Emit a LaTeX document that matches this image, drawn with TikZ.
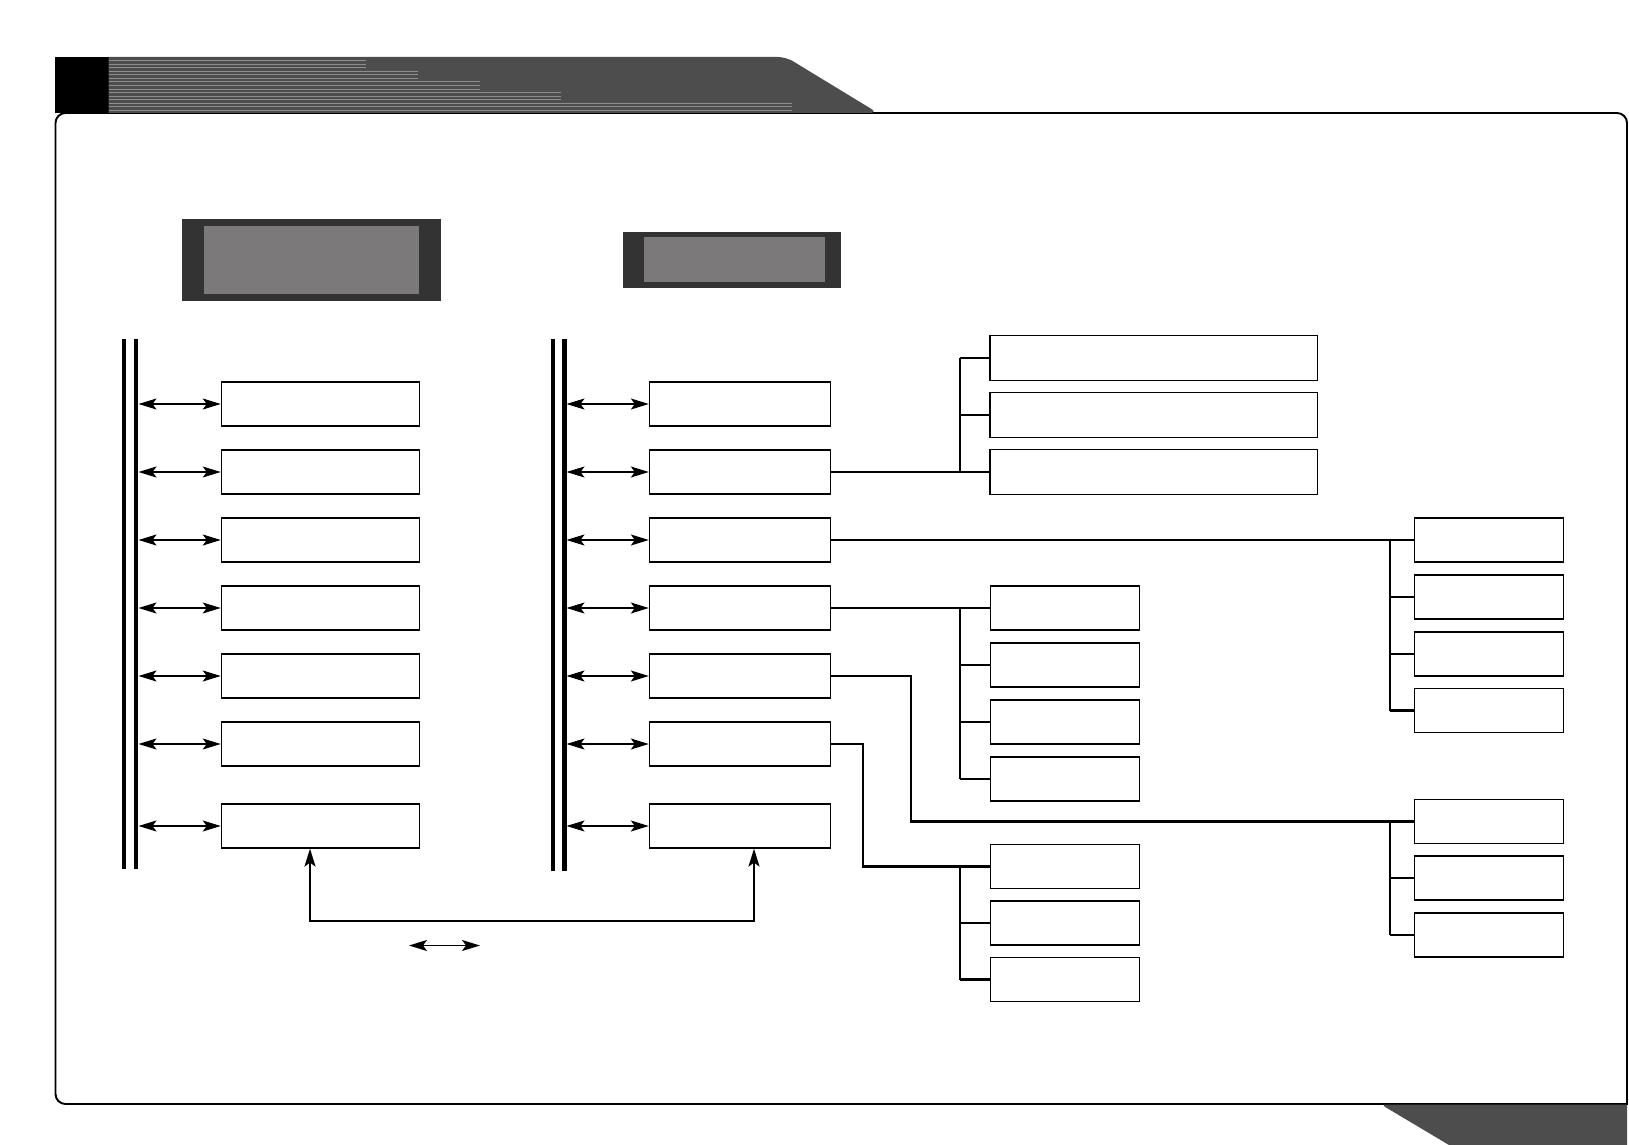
\documentclass[tikz,border=0pt]{standalone}
\usetikzlibrary{arrows.meta}
\definecolor{Tab}{HTML}{4D4D4D}
\definecolor{Stripe}{HTML}{8E8E8E}
\definecolor{PanelEdge}{HTML}{333333}
\definecolor{PanelFill}{HTML}{7B797A}
\tikzset{unit/.style={draw=black,line width=0.65pt,fill=white,inner sep=0pt,
    minimum height=8.8mm},
  lunit/.style={unit,minimum width=39.68mm},
  munit/.style={unit,minimum width=36.24mm},
  wunit/.style={unit,minimum width=65.46mm,minimum height=8.9mm},
  sunit/.style={unit,minimum width=29.8mm},
  panel/.style={fill=PanelEdge,inner sep=0pt},
  screen/.style={fill=PanelFill,inner sep=0pt},
  frame/.style={draw=black,line width=1.1pt,rounded corners=2mm,line cap=rect},
  stripe/.style={draw=Stripe,line width=0.4pt},
  bus/.style={line width=2.3pt},
  tip/.tip={Stealth[length=3.6mm,width=2.2mm,inset=0.8mm]},
  busarrow/.style={tip-tip,line width=0.8pt},
  link/.style={line width=1.15pt},
  uplink/.style={link,tip-tip}}

\begin{document}
\begin{tikzpicture}[x=0.2mm,y=-0.2mm]
  \useasboundingbox (0,0) rectangle (1629,1145);
  % frame and tabs
  \draw[frame] (1627,1104) -- (55.5,1104) -- (55.5,113) -- (1627,113) -- (1627,1104);
  \fill[black] (55,57) rectangle (108.5,113);
  \fill[Tab] (108.5,113) -- (108.5,57) [rounded corners=1.6mm] -- (786,57) -- (878,113) [sharp corners] -- cycle;
  \draw[stripe] (108.5,60.5) -- (366,60.5) (108.5,64) -- (366,64) (108.5,67.6) -- (366,67.6);
  \draw[stripe] (108.5,71.2) -- (418,71.2) (108.5,74.7) -- (418,74.7) (108.5,78.3) -- (418,78.3);
  \draw[stripe] (108.5,81.8) -- (480,81.8) (108.5,85.4) -- (480,85.4) (108.5,88.9) -- (480,88.9);
  \draw[stripe] (108.5,92.5) -- (561,92.5) (108.5,96) -- (561,96) (108.5,99.6) -- (561,99.6);
  \draw[stripe] (108.5,103.1) -- (792,103.1) (108.5,106.7) -- (792,106.7) (108.5,110.2) -- (792,110.2);
  \fill[Tab] (1627,1104.5) -- (1627,1145) -- (1449,1145) [rounded corners=1mm] -- (1381,1104.5) [sharp corners] -- cycle;

  % display panels
  \node[panel,minimum width=51.86mm,minimum height=16.4mm] (lpanel) at (311.5,260) {};
  \node[screen,minimum width=42.96mm,minimum height=13.6mm] at (lpanel) {};
  \node[panel,minimum width=43.7mm,minimum height=11.2mm] (mpanel) at (732,260) {};
  \node[screen,minimum width=36.1mm,minimum height=9mm] at ([xshift=0.5mm]mpanel) {};

  % buses
  \draw[bus] (124,339) -- (124,869);
  \draw[bus] (136.3,339) -- (136.3,869);
  \draw[bus] (553,339) -- (553,871);
  \draw[bus] (564.5,339) -- (564.5,871);
  \coordinate (lrail) at (138.5,339);
  \coordinate (mrail) at (566.5,339);

  % left column
  \node[lunit] (l1) at (320.5,404) {};
  \node[lunit] (l2) at (320.5,472) {};
  \node[lunit] (l3) at (320.5,540) {};
  \node[lunit] (l4) at (320.5,608) {};
  \node[lunit] (l5) at (320.5,676) {};
  \node[lunit] (l6) at (320.5,744) {};
  \node[lunit] (l7) at (320.5,826) {};

  % middle column
  \node[munit] (m1) at (740,404) {};
  \node[munit] (m2) at (740,472) {};
  \node[munit] (m3) at (740,540) {};
  \node[munit] (m4) at (740,608) {};
  \node[munit] (m5) at (740,676) {};
  \node[munit] (m6) at (740,744) {};
  \node[munit] (m7) at (740,826) {};

  % bus arrows
  \draw[busarrow] (lrail |- l1.west) -- (l1.west);
  \draw[busarrow] (lrail |- l2.west) -- (l2.west);
  \draw[busarrow] (lrail |- l3.west) -- (l3.west);
  \draw[busarrow] (lrail |- l4.west) -- (l4.west);
  \draw[busarrow] (lrail |- l5.west) -- (l5.west);
  \draw[busarrow] (lrail |- l6.west) -- (l6.west);
  \draw[busarrow] (lrail |- l7.west) -- (l7.west);
  \draw[busarrow] (mrail |- m1.west) -- (m1.west);
  \draw[busarrow] (mrail |- m2.west) -- (m2.west);
  \draw[busarrow] (mrail |- m3.west) -- (m3.west);
  \draw[busarrow] (mrail |- m4.west) -- (m4.west);
  \draw[busarrow] (mrail |- m5.west) -- (m5.west);
  \draw[busarrow] (mrail |- m6.west) -- (m6.west);
  \draw[busarrow] (mrail |- m7.west) -- (m7.west);

  % branch boxes
  \node[wunit] (t1) at (1153.7,358) {};
  \node[wunit] (t2) at (1153.7,415) {};
  \node[wunit] (t3) at (1153.7,472) {};
  \node[sunit] (r1) at (1489,540) {};
  \node[sunit] (r2) at (1489,597) {};
  \node[sunit] (r3) at (1489,654) {};
  \node[sunit] (r4) at (1489,710.5) {};
  \node[sunit] (n1) at (1065,608) {};
  \node[sunit] (n2) at (1065,665) {};
  \node[sunit] (n3) at (1065,722) {};
  \node[sunit] (n4) at (1065,779) {};
  \node[sunit] (p1) at (1489,821.5) {};
  \node[sunit] (p2) at (1489,878) {};
  \node[sunit] (p3) at (1489,935) {};
  \node[sunit] (q1) at (1065,866.5) {};
  \node[sunit] (q2) at (1065,923) {};
  \node[sunit] (q3) at (1065,979.5) {};

  % branch links
  \coordinate (nspine) at (960,0);
  \coordinate (fspine) at (1390,0);
  \coordinate (bend5) at (911,0);
  \coordinate (bend6) at (862.5,0);
  \draw[link] (m2.east) -- (m2.east -| t3.west);
  \draw[link] (nspine |- t1.west) -- (nspine |- t3.west);
  \draw[link] (nspine |- t1.west) -- (t1.west);
  \draw[link] (nspine |- t2.west) -- (t2.west);
  \draw[link] (m3.east) -- (m3.east -| r1.west);
  \draw[link] (fspine |- r1.west) -- (fspine |- r4.west);
  \draw[link] (fspine |- r2.west) -- (r2.west);
  \draw[link] (fspine |- r3.west) -- (r3.west);
  \draw[link] (fspine |- r4.west) -- (r4.west);
  \draw[link] (m4.east) -- (m4.east -| n1.west);
  \draw[link] (nspine |- n1.west) -- (nspine |- n4.west);
  \draw[link] (nspine |- n2.west) -- (n2.west);
  \draw[link] (nspine |- n3.west) -- (n3.west);
  \draw[link] (nspine |- n4.west) -- (n4.west);
  \draw[link] (m5.east) -- (bend5 |- m5.east) |- (p1.west);
  \draw[link] (fspine |- p1.west) -- (fspine |- p3.west);
  \draw[link] (fspine |- p2.west) -- (p2.west);
  \draw[link] (fspine |- p3.west) -- (p3.west);
  \draw[link] (m6.east) -- (bend6 |- m6.east) |- (q1.west);
  \draw[link] (nspine |- q1.west) -- (nspine |- q3.west);
  \draw[link] (nspine |- q2.west) -- (q2.west);
  \draw[link] (nspine |- q3.west) -- (q3.west);

  % bottom link and key
  \coordinate (lk) at (310,921);
  \coordinate (mk) at (754,921);
  \draw[uplink] (lk |- l7.south) -- (lk) -- (mk) -- (mk |- m7.south);
  \coordinate (key1) at (409,945.5);
  \coordinate (key2) at (480,945.5);
  \draw[busarrow] (key1) -- (key2);
\end{tikzpicture}
\end{document}
